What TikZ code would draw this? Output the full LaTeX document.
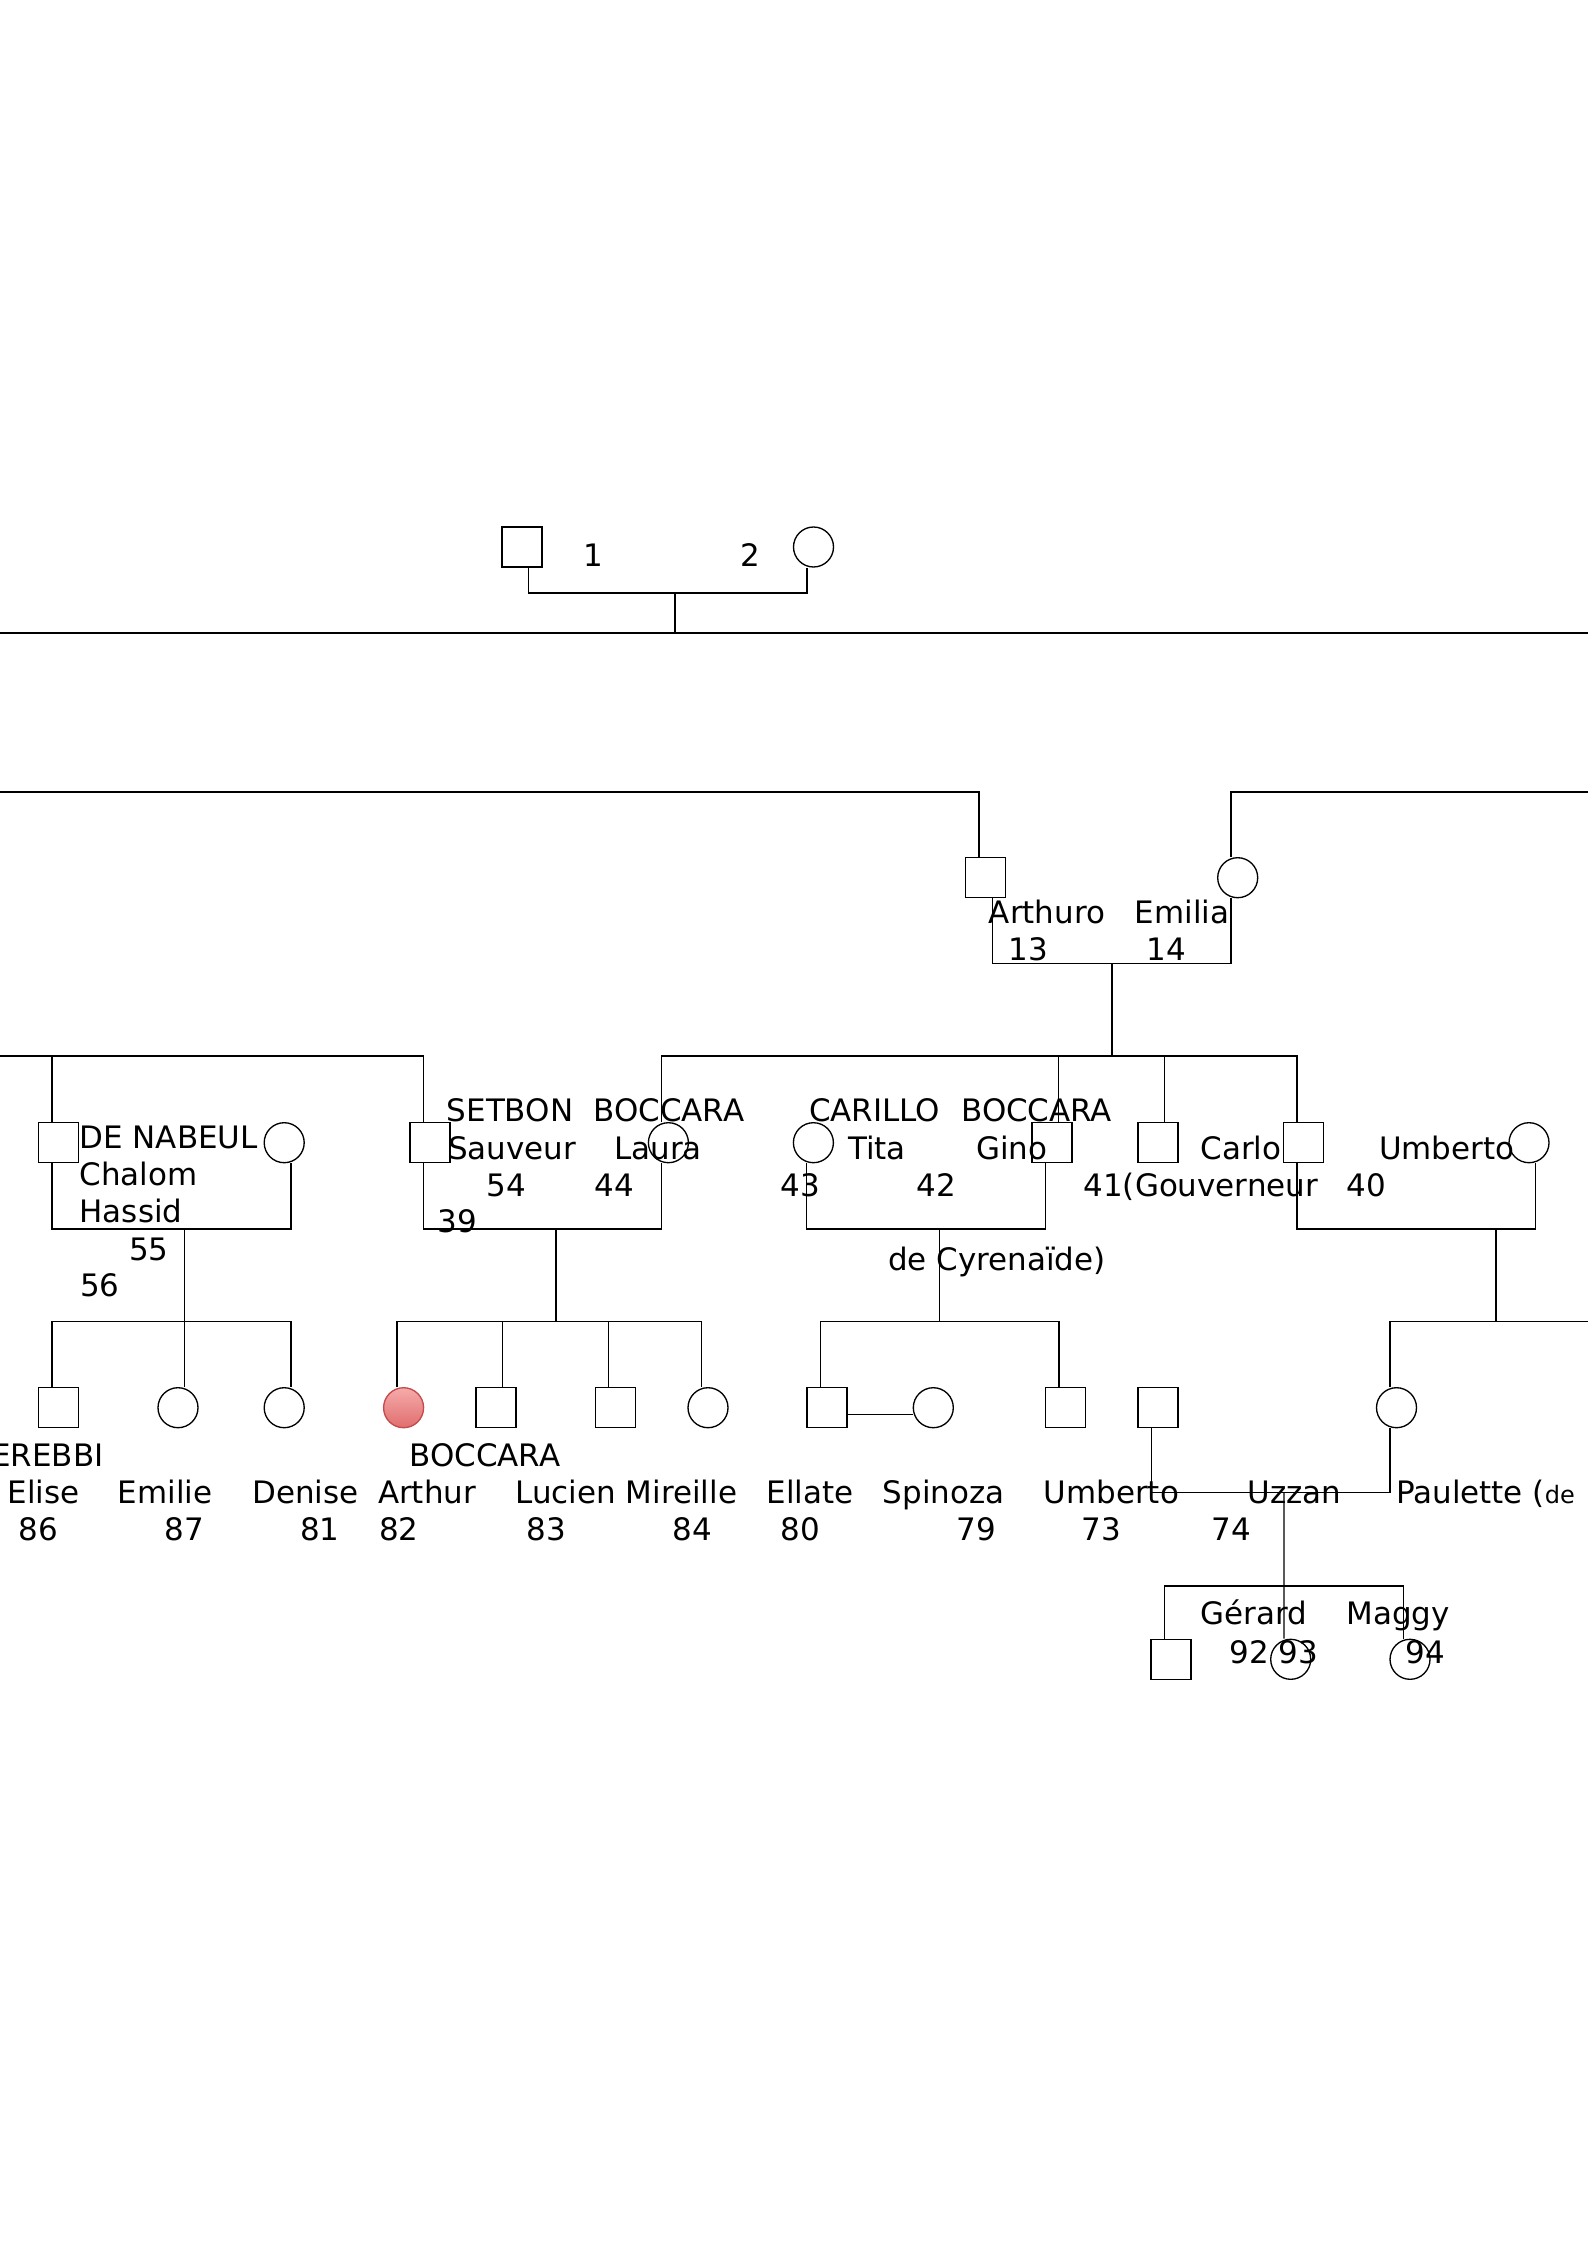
\documentclass[tikz,border=0pt]{standalone}
\usepackage{fontspec}
\setmainfont{DejaVu Sans}
\usetikzlibrary{calc}
\definecolor{pdred}{HTML}{E06E6E}
\definecolor{pdredlight}{HTML}{F6AAAA}
\definecolor{pdredline}{HTML}{C44B4B}

\begin{document}
\begin{tikzpicture}[
  x=0.375pt, y=-0.375pt,
  line width=0.5pt,
  every node/.style={font=\fontsize{11.6}{14}\selectfont},
  male/.style={rectangle, draw, minimum size=15pt, inner sep=0pt},
  female/.style={circle, draw, minimum size=15pt, inner sep=0pt},
  proband/.style={female, draw=pdredline, top color=pdredlight, bottom color=pdred},
  lbl/.style={anchor=base, inner sep=0pt},
  lblw/.style={anchor=base west, inner sep=0pt},
  lble/.style={anchor=base east, inner sep=0pt},
]
\useasboundingbox (0,0) rectangle (1588,2246);
\clip (0,0) rectangle (1588,2246);

% Generation I
\node[male] (p1) at (522,547) {};
\node[female] (p2) at (813.5,547) {};
\node[lbl] (t1) at (593,566) {1};
\node[lbl] (t2) at (750,566) {2};
\coordinate (c1) at (675,593);
\coordinate (w1) at (0,633);
\coordinate (e1) at (1588,633);
\draw ([xshift=2.5pt]p1.south) |- (c1) -| ([xshift=-2.5pt]p2.south);
\draw (c1) -- (c1 |- w1);
\draw (w1) -- (e1);

% Generation II
\coordinate (w2) at (0,792);
\coordinate (e2) at (1588,792);
\node[male] (p13) at (985.8,877.7) {};
\node[female] (p14) at (1237.7,877.7) {};
\draw (w2) -| ([xshift=-2.5pt]p13.north);
\draw (e2) -| ([xshift=-2.5pt]p14.north);
\node[lbl] (t13a) at (1047,923) {Arthuro};
\node[lbl] (t14a) at (1182,923) {Emilia};
\node[lbl] (t13) at (1028,960) {13};
\node[lbl] (t14) at (1166,960) {14};
\coordinate (c13) at (1112,963.3);
\coordinate (b13) at (1112,1056);
\draw ([xshift=2.5pt]p13.south) |- (c13) -| ([xshift=-2.5pt]p14.south);
\draw (c13) -- (b13);

% Generation III
\node[male] (p55) at (58.7,1142.7) {};
\node[female] (p56) at (284.2,1142.7) {};
\node[male] (p54) at (430,1142.7) {};
\node[female] (p44) at (668.4,1142.7) {};
\node[female] (p43) at (813.4,1142.7) {};
\node[male] (p42) at (1052,1142.7) {};
\node[male] (p41) at (1158,1142.7) {};
\node[male] (p40) at (1303.5,1142.7) {};
\node[female] (p40w) at (1529,1142.7) {};

\coordinate (w3) at (0,1056);
\draw (w3) -| ([xshift=-2.5pt]p54.north);
\draw ([xshift=-2.5pt]p55.north) |- (w3);
\draw ([xshift=-2.5pt]p44.north) |- (b13) -| ([xshift=-2.5pt]p40.north);
\draw ([xshift=2.5pt]p42.north) |- (b13);
\draw ([xshift=2.5pt]p41.north) |- (b13);

\node[lblw] (t55a) at (79,1148) {DE NABEUL};
\node[lblw] (t55b) at (79,1185) {Chalom};
\node[lblw] (t56a) at (79,1222) {Hassid};
\node[lbl] (t55) at (148.7,1260) {55};
\node[lbl] (t56) at (100,1296.7) {56};

\node[lbl] (t54a) at (510,1121.7) {SETBON};
\node[lbl] (t44a) at (669,1121.7) {BOCCARA};
\node[lbl] (t54b) at (512,1159.5) {Sauveur};
\node[lbl] (t44b) at (658,1159.5) {Laura};
\node[lbl] (t54) at (506,1196.7) {54};
\node[lbl] (t44) at (614,1196.7) {44};
\node[lbl] (t39) at (457.6,1232) {39};

\node[lbl] (t43a) at (874.6,1121.7) {CARILLO};
\node[lbl] (t42a) at (1036.7,1121.7) {BOCCARA};
\node[lbl] (t43b) at (877,1159.5) {Tita};
\node[lbl] (t42b) at (1011.6,1159.5) {Gino};
\node[lbl] (t43) at (800,1196.7) {43};
\node[lbl] (t42) at (936.4,1196.7) {42};
\node[lbl] (t41c) at (996.7,1270) {de Cyrenaïde)};

\node[lbl] (t41a) at (1241,1159.5) {Carlo};
\node[lbl] (t40a) at (1446.8,1159.5) {Umberto};
\node[lbl] (t41) at (1200.8,1196.7) {41(Gouverneur};
\node[lbl] (t40) at (1366.6,1196.7) {40};

\coordinate (c55) at (184.7,1229);
\coordinate (c54) at (556,1229);
\coordinate (c42) at (939.7,1229);
\coordinate (c40) at (1496,1229);
\draw ([xshift=-2.5pt]p55.south) |- (c55) -| ([xshift=2.5pt]p56.south);
\draw ([xshift=-2.5pt]p54.south) |- (c54) -| ([xshift=-2.5pt]p44.south);
\draw ([xshift=-2.5pt]p43.south) |- (c42) -| ([xshift=-2.5pt]p42.south);
\draw ([xshift=-2.5pt]p40.south) |- (c40) -| ([xshift=2.5pt]p40w.south);

% Generation IV
\node[male] (k86) at (58.7,1407.7) {};
\node[female] (k87) at (178,1407.7) {};
\node[female] (k81) at (284.2,1407.7) {};
\node[proband] (k82) at (403.6,1407.7) {};
\node[male] (k83) at (496,1407.7) {};
\node[male] (k85) at (615.3,1407.7) {};
\node[female] (k84) at (708,1407.7) {};
\node[male] (k80) at (826.9,1407.7) {};
\node[female] (k79) at (933.3,1407.7) {};
\node[male] (k73) at (1065.8,1407.7) {};
\node[male] (u73) at (1158,1407.7) {};
\node[female] (k74) at (1396.5,1407.7) {};

\coordinate (b55) at (184.7,1321.7);
\coordinate (b54) at (556,1321.7);
\coordinate (b42) at (939.7,1321.7);
\coordinate (b40) at (1496,1321.7);
\coordinate (e4) at (1588,1321.7);
\draw (c55) -- (b55);
\draw ([xshift=-2.5pt]k86.north) |- (b55) -| ([xshift=2.5pt]k81.north);
\draw ([xshift=2.5pt]k87.north) |- (b55);
\draw (c54) -- (b54);
\draw ([xshift=-2.5pt]k82.north) |- (b54) -| ([xshift=-2.5pt]k84.north);
\draw ([xshift=2.5pt]k83.north) |- (b54);
\draw ([xshift=-2.5pt]k85.north) |- (b54);
\draw (c42) -- (b42);
\draw ([xshift=-2.5pt]k80.north) |- (b42) -| ([xshift=-2.5pt]k73.north);
\draw ([yshift=-2.5pt]k80.east) -- ([yshift=-2.5pt]k79.west);
\draw (c40) -- (b40);
\draw ([xshift=-2.5pt]k74.north) |- (e4);

\node[lble] (t86a) at (104,1466.7) {EREBBI};
\node[lbl] (t82a) at (485,1466.7) {BOCCARA};
\node[lbl] (t86b) at (43.4,1503.3) {Elise};
\node[lbl] (t87b) at (165,1503.3) {Emilie};
\node[lbl] (t81b) at (305.4,1503.3) {Denise};
\node[lbl] (t82b) at (427,1503.3) {Arthur};
\node[lbl] (t83b) at (565.6,1503.3) {Lucien};
\node[lbl] (t84b) at (681.4,1503.3) {Mireille};
\node[lbl] (t80b) at (810,1503.3) {Ellate};
\node[lbl] (t79b) at (943.5,1503.3) {Spinoza};
\node[lbl] (t73b) at (1111.4,1503.3) {Umberto};
\node[lbl] (t74b) at (1294.5,1503.3) {Uzzan};
\node[lblw] (t74c) at (1395.5,1503.3) {Paulette ({\fontsize{9}{11}\selectfont de}};
\node[lbl] (t86) at (38.2,1540) {86};
\node[lbl] (t87) at (184.4,1540) {87};
\node[lbl] (t81) at (320,1540) {81};
\node[lbl] (t82) at (398.7,1540) {82};
\node[lbl] (t83) at (546,1540) {83};
\node[lbl] (t84) at (692.6,1540) {84};
\node[lbl] (t80) at (800.6,1540) {80};
\node[lbl] (t79) at (976,1540) {79};
\node[lbl] (t73) at (1101,1540) {73};
\node[lbl] (t74) at (1231,1540) {74};

\coordinate (c74) at (1284,1492.7);
\draw ([xshift=-2.5pt]u73.south) |- (c74) -| ([xshift=-2.5pt]k74.south);

% Generation V
\node[male] (g92) at (1171,1659.3) {};
\node[female] (g93) at (1290.7,1659.3) {};
\node[female] (g94) at (1410,1659.3) {};
\coordinate (b74) at (1284,1586);
\draw (c74) -- ([xshift=-2.5pt]g93.north);
\draw ([xshift=-2.5pt]g92.north) |- (b74) -| ([xshift=-2.5pt]g94.north);

\node[lbl] (t92a) at (1254,1624) {Gérard};
\node[lbl] (t94a) at (1398,1624) {Maggy};
\node[lbl] (t92) at (1249.5,1663) {92};
\node[lbl] (t93) at (1298,1663) {93};
\node[lbl] (t94) at (1425,1663) {94};

\end{tikzpicture}
\end{document}
